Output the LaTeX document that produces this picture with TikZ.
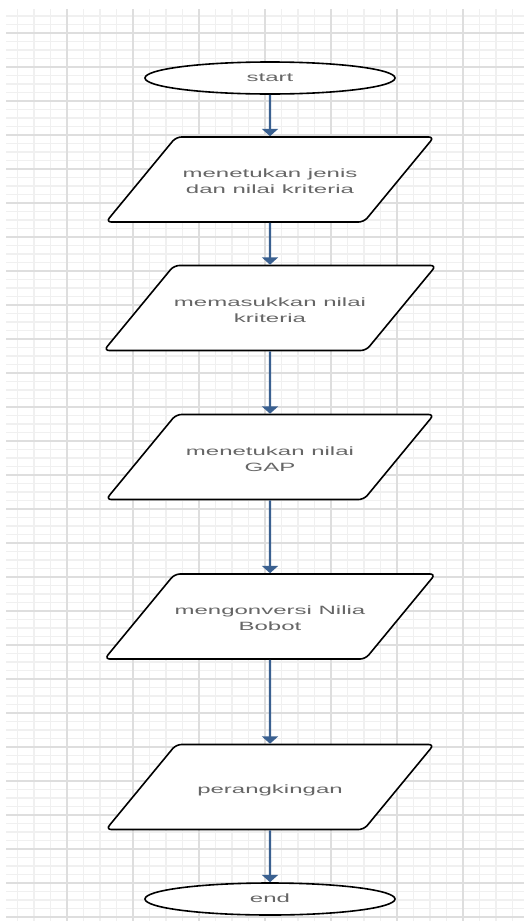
\documentclass[tikz,border=0pt]{standalone}
\usepackage{fontspec}
\setmainfont{Liberation Sans}
\usepackage{graphicx}
\usetikzlibrary{shapes.geometric,arrows.meta}

\definecolor{arrowblue}{HTML}{3A6090}
\newcommand{\wtext}[1]{\scalebox{2}[1]{\begin{tabular}{@{}c@{}}#1\end{tabular}}}

\begin{document}
\begin{tikzpicture}[x=0.75pt,y=-0.75pt,
    minorline/.style={draw=black!6,line width=0.9pt},
    majorline/.style={draw=black!13,line width=1.1pt},
    terminal/.style={ellipse,draw,line width=1.2pt,fill=white,minimum width=187.5pt,
      minimum height=24pt,inner sep=0pt,text=black!60,font=\fontsize{9}{12}\selectfont},
    iobox/.style={trapezium,trapezium left angle=50.5,trapezium right angle=129.5,
      trapezium stretches body=true,draw,line width=1.2pt,rounded corners=4pt,fill=white,
      minimum width=246pt,text height=36.35pt,text depth=27.4pt,inner sep=0pt,
      text=black!60,font=\fontsize{9}{12}\selectfont},
    flow/.style={draw=arrowblue,line width=1.6pt,-{Triangle[width=12pt,length=5.5pt]}}]

  \useasboundingbox[fill=white] (0,0) rectangle (524,921);

  % grid
  \foreach \i in {1,...,31}
    \draw[minorline] ({1+16.5*\i},9) -- ({1+16.5*\i},921);
  \foreach \j in {0,...,106}
    \draw[minorline] (6,{16+8.5*\j}) -- (524,{16+8.5*\j});
  \foreach \i in {1,...,7}
    \draw[majorline] ({1+66*\i},9) -- ({1+66*\i},921);
  \foreach \j in {0,...,26}
    \draw[majorline] (6,{33+34*\j}) -- (524,{33+34*\j});

  % langkah
  \node[terminal] (start) at (270,78) {\wtext{start}};
  \node[iobox] (kriteria) at (270,179.5) {\wtext{menetukan jenis\\dan nilai kriteria}};
  \node[iobox] (input) at (270,308) {\wtext{memasukkan nilai\\kriteria}};
  \node[iobox] (gap) at (270,457) {\wtext{menetukan nilai\\GAP}};
  \node[iobox] (bobot) at (270,616.5) {\wtext{mengonversi Nilia\\Bobot}};
  \node[iobox] (ranking) at (270,787) {\wtext{perangkingan}};
  \node[terminal] (stop) at (270,899) {\wtext{end}};

  % alur
  \foreach \a/\b in {start/kriteria,kriteria/input,input/gap,gap/bobot,bobot/ranking,ranking/stop}
    \draw[flow] (\a) -- (\b);
\end{tikzpicture}
\end{document}
